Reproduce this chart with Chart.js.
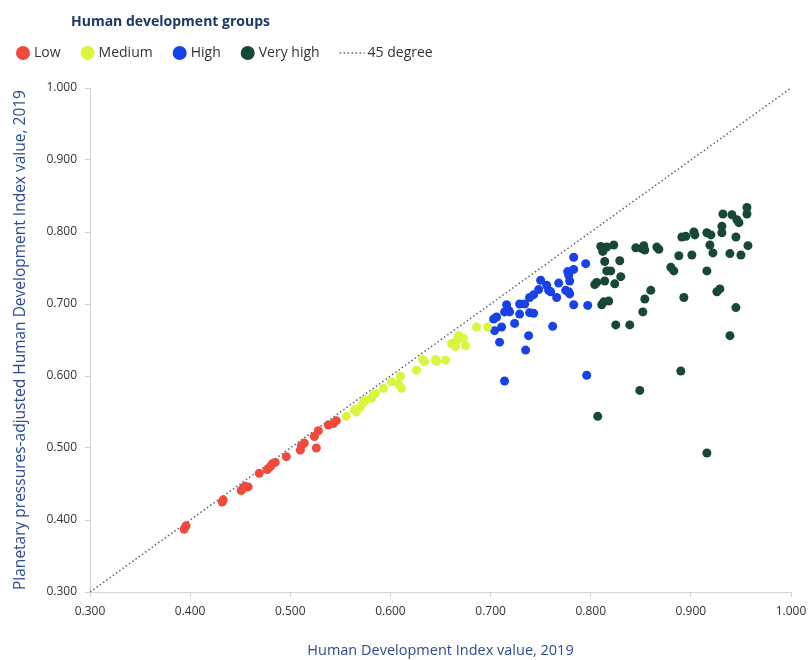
<!DOCTYPE html>
<html>
<head>
<meta charset="utf-8">
<title>HDI x PHDI</title>
<script src="https://cdn.jsdelivr.net/npm/chart.js@4.4.1/dist/chart.umd.min.js"></script>
<style>
  html, body { margin: 0; padding: 0; background: #fff; }
  #wrap { width: 808px; height: 660px; }
</style>
</head>
<body>
<div id="wrap"><canvas id="chart_hdi" width="808" height="660"></canvas></div>
<script>
// Dados (IDH x IDH ajustado por pressões planetárias)
const lowHdi = [0.394, 0.396, 0.432, 0.433, 0.451, 0.453, 0.458, 0.455, 0.469, 0.477, 0.480, 0.485, 0.482, 0.496, 0.510, 0.511, 0.514, 0.526, 0.524, 0.528, 0.538, 0.543, 0.546];
const lowPhdi = [0.387, 0.392, 0.425, 0.428, 0.441, 0.444, 0.446, 0.447, 0.465, 0.470, 0.474, 0.480, 0.478, 0.488, 0.497, 0.503, 0.507, 0.500, 0.516, 0.524, 0.532, 0.534, 0.538];

const mediumHdi = [0.556, 0.564, 0.566, 0.570, 0.573, 0.575, 0.581, 0.583, 0.585, 0.593, 0.601, 0.610, 0.608, 0.611, 0.626, 0.632, 0.634, 0.645, 0.646, 0.655, 0.661, 0.666, 0.668, 0.665, 0.673, 0.675, 0.686, 0.697];
const mediumPhdi = [0.544, 0.553, 0.550, 0.557, 0.563, 0.567, 0.569, 0.574, 0.576, 0.583, 0.592, 0.600, 0.589, 0.583, 0.608, 0.623, 0.620, 0.623, 0.620, 0.622, 0.645, 0.649, 0.656, 0.641, 0.652, 0.642, 0.668, 0.668];

const highHdi = [0.703, 0.706, 0.704, 0.711, 0.709, 0.714, 0.718, 0.716, 0.719, 0.724, 0.729, 0.729, 0.734, 0.738, 0.735, 0.739, 0.743, 0.739, 0.743, 0.748, 0.750, 0.756, 0.758, 0.760, 0.762, 0.766, 0.768, 0.775, 0.778, 0.779, 0.779, 0.777, 0.778, 0.783, 0.783, 0.783, 0.795, 0.797, 0.714, 0.796];
const highPhdi = [0.679, 0.682, 0.663, 0.668, 0.647, 0.689, 0.691, 0.699, 0.689, 0.673, 0.686, 0.700, 0.700, 0.656, 0.636, 0.688, 0.687, 0.709, 0.713, 0.720, 0.733, 0.726, 0.719, 0.717, 0.669, 0.709, 0.729, 0.719, 0.717, 0.714, 0.732, 0.745, 0.740, 0.748, 0.765, 0.699, 0.756, 0.698, 0.593, 0.601];

const veryHighHdi = [0.810, 0.813, 0.812, 0.816, 0.823, 0.814, 0.829, 0.816, 0.820, 0.804, 0.806, 0.814, 0.824, 0.830, 0.811, 0.813, 0.818, 0.825, 0.839, 0.845, 0.851, 0.853, 0.854, 0.866, 0.868, 0.860, 0.854, 0.852, 0.880, 0.883, 0.888, 0.893, 0.891, 0.895, 0.903, 0.904, 0.901, 0.916, 0.920, 0.919, 0.922, 0.916, 0.926, 0.929, 0.932, 0.931, 0.931, 0.941, 0.946, 0.948, 0.945, 0.939, 0.950, 0.956, 0.956, 0.957, 0.945, 0.939, 0.890, 0.849, 0.807, 0.916];
const veryHighPhdi = [0.780, 0.777, 0.773, 0.779, 0.782, 0.759, 0.760, 0.746, 0.746, 0.727, 0.730, 0.732, 0.728, 0.738, 0.699, 0.703, 0.704, 0.671, 0.671, 0.778, 0.777, 0.781, 0.775, 0.779, 0.776, 0.719, 0.707, 0.689, 0.751, 0.746, 0.767, 0.709, 0.793, 0.794, 0.800, 0.796, 0.768, 0.799, 0.796, 0.782, 0.771, 0.746, 0.717, 0.721, 0.825, 0.808, 0.799, 0.824, 0.817, 0.813, 0.793, 0.770, 0.768, 0.834, 0.825, 0.781, 0.695, 0.656, 0.607, 0.580, 0.544, 0.493];

const diagonal = [0.3, 1.0]; // linha de 45 graus
const axisTicks = [0.3, 0.4, 0.5, 0.6, 0.7, 0.8, 0.9, 1.0];
const groupNames = ['Low', 'Medium', 'High', 'Very high', '45 degree'];
const groupColors = ['#ef4a3b', '#dbf43c', '#1742e8', '#174836', '#55627f'];
const legendTitle = 'Human development groups';

function toPoints(xs, ys) {
  return xs.map((x, i) => ({ x: x, y: ys[i] }));
}

Chart.defaults.font.family = "'Open Sans', sans-serif";
Chart.defaults.color = '#333';

// Legenda desenhada à mão (título deslocado e linha pontilhada mais longa)
const groupLegend = {
  id: 'groupLegend',
  afterDraw(chart) {
    const c = chart.ctx;
    c.save();
    c.textBaseline = 'middle';
    c.fillStyle = '#1d3767';
    c.font = "bold 14px 'Open Sans'";
    c.fillText(legendTitle, 71, 22);
    c.font = "14px 'Open Sans'";
    let x = 16;
    const y = 53;
    chart.data.datasets.forEach(ds => {
      if (ds.type === 'line') {
        c.strokeStyle = ds.borderColor;
        c.lineWidth = ds.borderWidth;
        c.setLineDash(ds.borderDash);
        c.beginPath();
        c.moveTo(x, y);
        c.lineTo(x + 25, y);
        c.stroke();
        c.setLineDash([]);
        x += 28;
      } else {
        c.fillStyle = ds.backgroundColor;
        c.beginPath();
        c.arc(x + 7, y, 7, 0, Math.PI * 2);
        c.fill();
        x += 18;
      }
      c.fillStyle = '#333';
      c.fillText(ds.label, x, y);
      x += c.measureText(ds.label).width + 20;
    });
    c.restore();
  }
};

function scatterSet(i, xs, ys) {
  return {
    label: groupNames[i],
    data: toPoints(xs, ys),
    backgroundColor: groupColors[i],
    borderColor: groupColors[i],
    borderWidth: 0,
    pointRadius: 4.5,
    pointHoverRadius: 6
  };
}

const ctx = document.getElementById('chart_hdi');

new Chart(ctx, {
  type: 'scatter',
  data: {
    datasets: [
      scatterSet(0, lowHdi, lowPhdi),
      scatterSet(1, mediumHdi, mediumPhdi),
      scatterSet(2, highHdi, highPhdi),
      scatterSet(3, veryHighHdi, veryHighPhdi),
      {
        type: 'line',
        label: groupNames[4],
        data: toPoints(diagonal, diagonal),
        showLine: true,
        borderColor: groupColors[4],
        borderWidth: 1.5,
        borderDash: [1.5, 2.5],
        pointRadius: 0,
        fill: false,
        tension: 0
      }
    ]
  },
  options: {
    responsive: false,
    animation: false,
    layout: {
      padding: { top: 88, right: 17, bottom: 0, left: 0 }
    },
    plugins: {
      legend: { display: false },
      tooltip: { displayColor: false }
    },
    scales: {
      x: {
        type: 'linear',
        min: 0.3,
        max: 1.0,
        afterBuildTicks: s => { s.ticks = axisTicks.map(v => ({ value: v })); },
        afterFit: s => { s.height = 68; s.paddingRight = 17; }, // deixa o último rótulo cortado como no original
        grid: { display: true, drawOnChartArea: false, tickLength: 5, color: '#d3d3d3' },
        border: { color: '#d3d3d3' },
        ticks: {
          padding: 7,
          maxRotation: 0,
          font: { size: 12 },
          color: '#333',
          callback: v => Number(v).toFixed(3)
        },
        title: {
          display: true,
          text: 'Human Development Index value, 2019',
          color: '#2c4b94',
          font: { size: 14.5 },
          padding: { top: 0, bottom: 0 }
        }
      },
      y: {
        type: 'linear',
        min: 0.3,
        max: 1.0,
        afterBuildTicks: s => { s.ticks = axisTicks.map(v => ({ value: v })); },
        afterFit: s => { s.width = 90; },
        grid: { display: true, drawOnChartArea: false, tickLength: 5, color: '#d3d3d3' },
        border: { color: '#d3d3d3' },
        ticks: {
          padding: 8,
          font: { size: 12 },
          color: '#333',
          callback: v => Number(v).toFixed(3)
        },
        title: {
          display: true,
          text: 'Planetary pressures-adjusted Human Development Index value, 2019',
          color: '#2c4b94',
          font: { size: 15.5 },
          padding: { top: 11, bottom: 0 }
        }
      }
    }
  },
  plugins: [groupLegend]
});
</script>
</body>
</html>
